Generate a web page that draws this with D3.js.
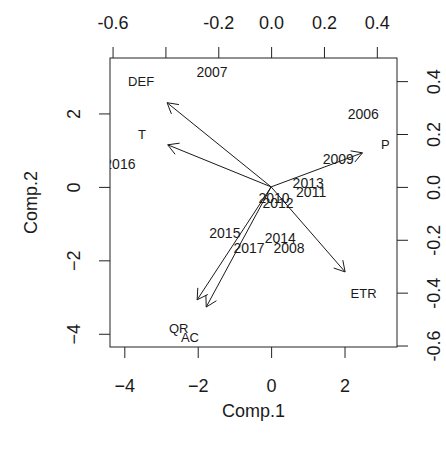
<!DOCTYPE html>
<html>
<head>
<meta charset="utf-8">
<script src="https://cdn.jsdelivr.net/npm/d3@7"></script>
<style>
  body { margin: 0; background: #fff; }
  text { font-family: "Liberation Sans", Arial, sans-serif; fill: #1a1a1a; }
</style>
</head>
<body>
<div id="chart-area"></div>
<script>
// scores (years)
let years = ["2006", "2007", "2008", "2009", "2010", "2011", "2012", "2013", "2014", "2015", "2016", "2017"];
let comp1 = [2.51, -1.61, 0.49, 1.83, 0.08, 1.09, 0.19, 1.01, 0.25, -1.26, -4.12, -0.60];
let comp2 = [1.99, 3.13, -1.66, 0.76, -0.30, -0.14, -0.44, 0.11, -1.39, -1.25, 0.63, -1.66];

// loadings (variables)
let vars = ["DEF", "T", "P", "ETR", "QR", "AC"];
let load1 = [-0.492, -0.489, 0.432, 0.350, -0.350, -0.307];
let load2 = [0.398, 0.199, 0.161, -0.402, -0.534, -0.568];

let scoreTicks = [-4, -2, 0, 2];
let loadTicks = [-0.6, -0.4, -0.2, 0.0, 0.2, 0.4];
let topLabels = ["-0.6", "", "-0.2", "0.0", "0.2", "0.4"];
let rightLabels = ["-0.6", "-0.4", "-0.2", "0.0", "0.2", "0.4"];

let W = 446, H = 453;
let mLeft = 110, mRight = 397, mTop = 58, mBottom = 347;
let ratio = 7.2;

let svg = d3.select("#chart-area").append("svg").attr("width", W).attr("height", H);

let x = d3.scaleLinear().domain([-4.39, 3.43]).range([mLeft, mRight]);
let y = d3.scaleLinear().domain([-4.36, 3.51]).range([mBottom, mTop]);
let x2 = d3.scaleLinear().domain(x.domain().map(d => d / ratio)).range([mLeft, mRight]);
let y2 = d3.scaleLinear().domain(y.domain().map(d => d / ratio)).range([mBottom, mTop]);

svg.append("defs").append("clipPath").attr("id", "plotclip")
  .append("rect").attr("x", mLeft).attr("y", mTop).attr("width", mRight - mLeft).attr("height", mBottom - mTop);

let tickSize = 11, fs = 18;

function styleAxis(g) {
  g.select(".domain").remove();
  g.selectAll("line").attr("stroke", "#222");
  g.selectAll("text").attr("font-size", fs).attr("fill", "#1a1a1a")
    .attr("font-family", '"Liberation Sans", Arial, sans-serif');
}

// bottom axis
let gb = svg.append("g").attr("transform", `translate(0,${mBottom})`)
  .call(d3.axisBottom(x).tickValues(scoreTicks).tickSize(tickSize).tickFormat(d3.format("d")))
  .call(styleAxis);
gb.selectAll(".tick text").attr("y", 45).attr("dy", null);

// left axis (rotated labels)
let gl = svg.append("g").attr("transform", `translate(${mLeft},0)`)
  .call(d3.axisLeft(y).tickValues(scoreTicks).tickSize(tickSize).tickFormat(d3.format("d")))
  .call(styleAxis);
gl.selectAll(".tick text").attr("x", null).attr("dy", null)
  .attr("text-anchor", "middle")
  .attr("transform", "translate(-30.5,0) rotate(-90)");

// top axis
let gt = svg.append("g").attr("transform", `translate(0,${mTop})`)
  .call(d3.axisTop(x2).tickValues(loadTicks).tickSize(tickSize)
    .tickFormat((d, i) => topLabels[i]))
  .call(styleAxis);
gt.selectAll(".tick text").attr("y", -29.5).attr("dy", null);

// right axis
let gr = svg.append("g").attr("transform", `translate(${mRight},0)`)
  .call(d3.axisRight(y2).tickValues(loadTicks).tickSize(tickSize)
    .tickFormat((d, i) => rightLabels[i]))
  .call(styleAxis);
gr.selectAll(".tick text").attr("x", null).attr("dy", null)
  .attr("text-anchor", "middle")
  .attr("transform", "translate(42.5,0) rotate(-90)");

// box
svg.append("rect").attr("x", mLeft).attr("y", mTop).attr("width", mRight - mLeft).attr("height", mBottom - mTop)
  .attr("fill", "none").attr("stroke", "#222").attr("stroke-width", 1);

// axis titles
svg.append("text").attr("x", (mLeft + mRight) / 2).attr("y", 417).attr("text-anchor", "middle")
  .attr("font-size", fs).text("Comp.1");
svg.append("text").attr("transform", `translate(37,${(mTop + mBottom) / 2}) rotate(-90)`)
  .attr("text-anchor", "middle").attr("font-size", fs).text("Comp.2");

// year labels
svg.append("g").attr("clip-path", "url(#plotclip)")
  .selectAll("text").data(years).enter()
  .append("text")
    .attr("x", (d, i) => x(comp1[i]))
    .attr("y", (d, i) => y(comp2[i]))
    .attr("dy", "0.35em")
    .attr("text-anchor", "middle")
    .attr("font-size", 14)
    .text(d => d);

// arrows
let headLen = 12, headAng = Math.PI / 6;
let arrows = svg.append("g").attr("fill", "none").attr("stroke", "#1a1a1a").attr("stroke-width", 1);
vars.forEach((v, i) => {
  let x0 = x2(0), y0 = y2(0);
  let x1 = x2(load1[i] * 0.8), y1 = y2(load2[i] * 0.8);
  let a = Math.atan2(y1 - y0, x1 - x0);
  let p = d3.path();
  p.moveTo(x0, y0);
  p.lineTo(x1, y1);
  p.moveTo(x1 - headLen * Math.cos(a - headAng), y1 - headLen * Math.sin(a - headAng));
  p.lineTo(x1, y1);
  p.lineTo(x1 - headLen * Math.cos(a + headAng), y1 - headLen * Math.sin(a + headAng));
  arrows.append("path").attr("d", p.toString());
});

// variable labels
svg.append("g").selectAll("text").data(vars).enter()
  .append("text")
    .attr("x", (d, i) => x2(load1[i]))
    .attr("y", (d, i) => y2(load2[i]))
    .attr("dy", "0.35em")
    .attr("text-anchor", "middle")
    .attr("font-size", 13)
    .text(d => d);
</script>
</body>
</html>
